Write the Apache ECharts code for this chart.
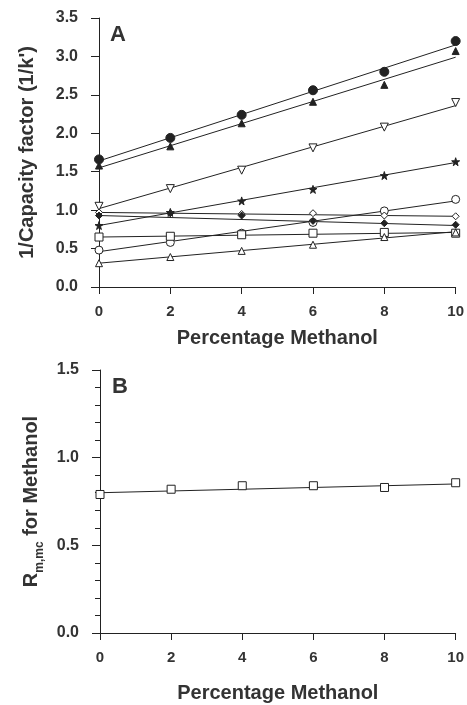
<!DOCTYPE html>
<html><head><meta charset="utf-8">
<script src="https://cdn.jsdelivr.net/npm/echarts@6/dist/echarts.min.js"></script>
<style>html,body{margin:0;padding:0;background:#fff}#c{width:467px;height:705px}</style>
</head><body><div id="c"></div>
<script>
// ---- Data ----
const xValues = [0, 2, 4, 6, 8, 10];
const xTicks = [0, 2, 4, 6, 8, 10];
const yTicksA = [0.0, 0.5, 1.0, 1.5, 2.0, 2.5, 3.0, 3.5];
const yTicksB = [0.0, 0.5, 1.0, 1.5];

// Panel A: 1/k' per compound
const filledCircle   = [1.66, 1.94, 2.24, 2.56, 2.80, 3.20];
const filledTriangle = [1.58, 1.83, 2.13, 2.41, 2.63, 3.07];
const openDownTri    = [1.05, 1.28, 1.52, 1.81, 2.08, 2.40];
const starVals       = [0.80, 0.97, 1.12, 1.27, 1.45, 1.63];
const openCircle     = [0.48, 0.58, 0.70, 0.84, 0.99, 1.14];
const openDiamond    = [0.97, 0.96, 0.95, 0.96, 0.93, 0.92];
const filledDiamond  = [0.93, 0.96, 0.93, 0.86, 0.83, 0.81];
const openSquare     = [0.65, 0.66, 0.68, 0.70, 0.71, 0.70];
const openTriangle   = [0.31, 0.39, 0.47, 0.55, 0.65, 0.71];

// Fitted lines (values read at x = 0 and x = 10)
const fitStartA = [1.64, 1.55, 1.02, 0.80, 0.46, 0.97, 0.93, 0.65, 0.31];
const fitEndA   = [3.15, 2.99, 2.36, 1.62, 1.12, 0.92, 0.80, 0.71, 0.72];

// Panel B: R m,mc for methanol
const rValues = [0.79, 0.82, 0.84, 0.84, 0.83, 0.857];
const fitB = [0.80, 0.85];

const INK = '#222';
const STAR = 'path://M50,0 L61,35 L98,35 L68,57 L79,91 L50,70 L21,91 L32,57 L2,35 L39,35 Z';
const markerDefs = [
  {vals: filledCircle,   symbol: 'circle',   size: 9, fill: INK},
  {vals: filledTriangle, symbol: 'triangle', size: 7, fill: INK},
  {vals: openDownTri,    symbol: 'triangle', size: 8, fill: '#fff', rotate: 180},
  {vals: starVals,       symbol: STAR,       size: 8, fill: INK},
  {vals: openCircle,     symbol: 'circle',   size: 8, fill: '#fff'},
  {vals: openDiamond,    symbol: 'diamond',  size: 7, fill: '#fff'},
  {vals: filledDiamond,  symbol: 'diamond',  size: 7, fill: INK},
  {vals: openSquare,     symbol: 'rect',     size: 8, fill: '#fff'},
  {vals: openTriangle,   symbol: 'triangle', size: 7, fill: '#fff'}
];

const series = [];
markerDefs.forEach((d, i) => {
  series.push({
    type: 'line', xAxisIndex: 0, yAxisIndex: 0, silent: true,
    data: [[xValues[0], fitStartA[i]], [xValues[xValues.length - 1], fitEndA[i]]],
    showSymbol: false, lineStyle: {color: INK, width: 1}, z: 2, animation: false
  });
});
markerDefs.forEach((d, i) => {
  series.push({
    type: 'scatter', xAxisIndex: 0, yAxisIndex: 0,
    data: xValues.map((x, j) => [x, d.vals[j]]),
    symbol: d.symbol, symbolSize: d.size, symbolRotate: d.rotate || 0,
    itemStyle: {color: d.fill, borderColor: INK, borderWidth: 1, opacity: 1},
    z: 3, animation: false
  });
});
series.push({
  type: 'line', xAxisIndex: 1, yAxisIndex: 1,
  data: [[xValues[0], fitB[0]], [xValues[xValues.length - 1], fitB[1]]],
  showSymbol: false, lineStyle: {color: INK, width: 1}, z: 2, animation: false
});
series.push({
  type: 'scatter', xAxisIndex: 1, yAxisIndex: 1,
  data: xValues.map((x, j) => [x, rValues[j]]),
  symbol: 'rect', symbolSize: 8,
  itemStyle: {color: '#fff', borderColor: INK, borderWidth: 1, opacity: 1},
  z: 3, animation: false
});

const FONT = 'Liberation Sans, Arial, sans-serif';
const TXT = '#333';
const axisLine = {show: true, onZero: false, lineStyle: {color: INK, width: 1}};
const labelStyle = {color: TXT, fontFamily: FONT, fontWeight: 'bold', fontSize: 16};

function xAxis(grid, gap) {
  return {
    type: 'value', gridIndex: grid, min: xTicks[0], max: xTicks[xTicks.length - 1],
    interval: xTicks[1] - xTicks[0],
    axisLine, axisTick: {show: true, length: 7, lineStyle: {color: INK}},
    axisLabel: Object.assign({}, labelStyle, {fontSize: 15, margin: 17}),
    splitLine: {show: false},
    name: 'Percentage Methanol', nameLocation: 'middle', nameGap: gap,
    nameTextStyle: {color: TXT, fontFamily: FONT, fontWeight: 'bold', fontSize: 20}
  };
}

const option = {
  backgroundColor: '#fff',
  animation: false,
  grid: [
    {left: 99, right: 9, top: 18, height: 269},
    {left: 100, right: 7, top: 370, height: 263}
  ],
  xAxis: [xAxis(0, 41), xAxis(1, 50)],
  yAxis: [
    {
      type: 'value', gridIndex: 0, min: yTicksA[0], max: yTicksA[yTicksA.length - 1],
      interval: yTicksA[1] - yTicksA[0],
      axisLine, axisTick: {show: true, length: 8, lineStyle: {color: INK}},
      axisLabel: Object.assign({}, labelStyle, {margin: 21, formatter: v => v.toFixed(1)}),
      splitLine: {show: false},
      name: "1/Capacity factor (1/k')", nameLocation: 'middle', nameRotate: 90, nameGap: 62,
      nameTextStyle: {color: TXT, fontFamily: FONT, fontWeight: 'bold', fontSize: 20}
    },
    {
      type: 'value', gridIndex: 1, min: yTicksB[0], max: yTicksB[yTicksB.length - 1],
      interval: yTicksB[1] - yTicksB[0],
      axisLine, axisTick: {show: true, length: 8, lineStyle: {color: INK}},
      minorTick: {show: true, splitNumber: 5, length: 5, lineStyle: {color: INK}},
      axisLabel: Object.assign({}, labelStyle, {margin: 21, formatter: v => v.toFixed(1)}),
      splitLine: {show: false}, minorSplitLine: {show: false},
      name: '{r|R}{s|m,mc}{r| for Methanol}', nameLocation: 'middle', nameRotate: 90, nameGap: 50,
      nameTextStyle: {
        color: TXT, fontFamily: FONT, fontWeight: 'bold', fontSize: 20,
        rich: {
          r: {color: TXT, fontFamily: FONT, fontWeight: 'bold', fontSize: 20, lineHeight: 24, verticalAlign: 'bottom'},
          s: {color: TXT, fontFamily: FONT, fontWeight: 'bold', fontSize: 12, lineHeight: 24, verticalAlign: 'bottom', padding: [0, 0, -4, 0]}
        }
      }
    }
  ],
  graphic: [
    {type: 'text', left: 110, top: 24, style: {text: 'A', fontFamily: FONT, fontWeight: 'bold', fontSize: 22, fill: TXT}},
    {type: 'text', left: 112, top: 376, style: {text: 'B', fontFamily: FONT, fontWeight: 'bold', fontSize: 22, fill: TXT}}
  ],
  series
};

const chart = echarts.init(document.getElementById('c'), null, {renderer: 'canvas'});
chart.setOption(option);
</script>
</body></html>
